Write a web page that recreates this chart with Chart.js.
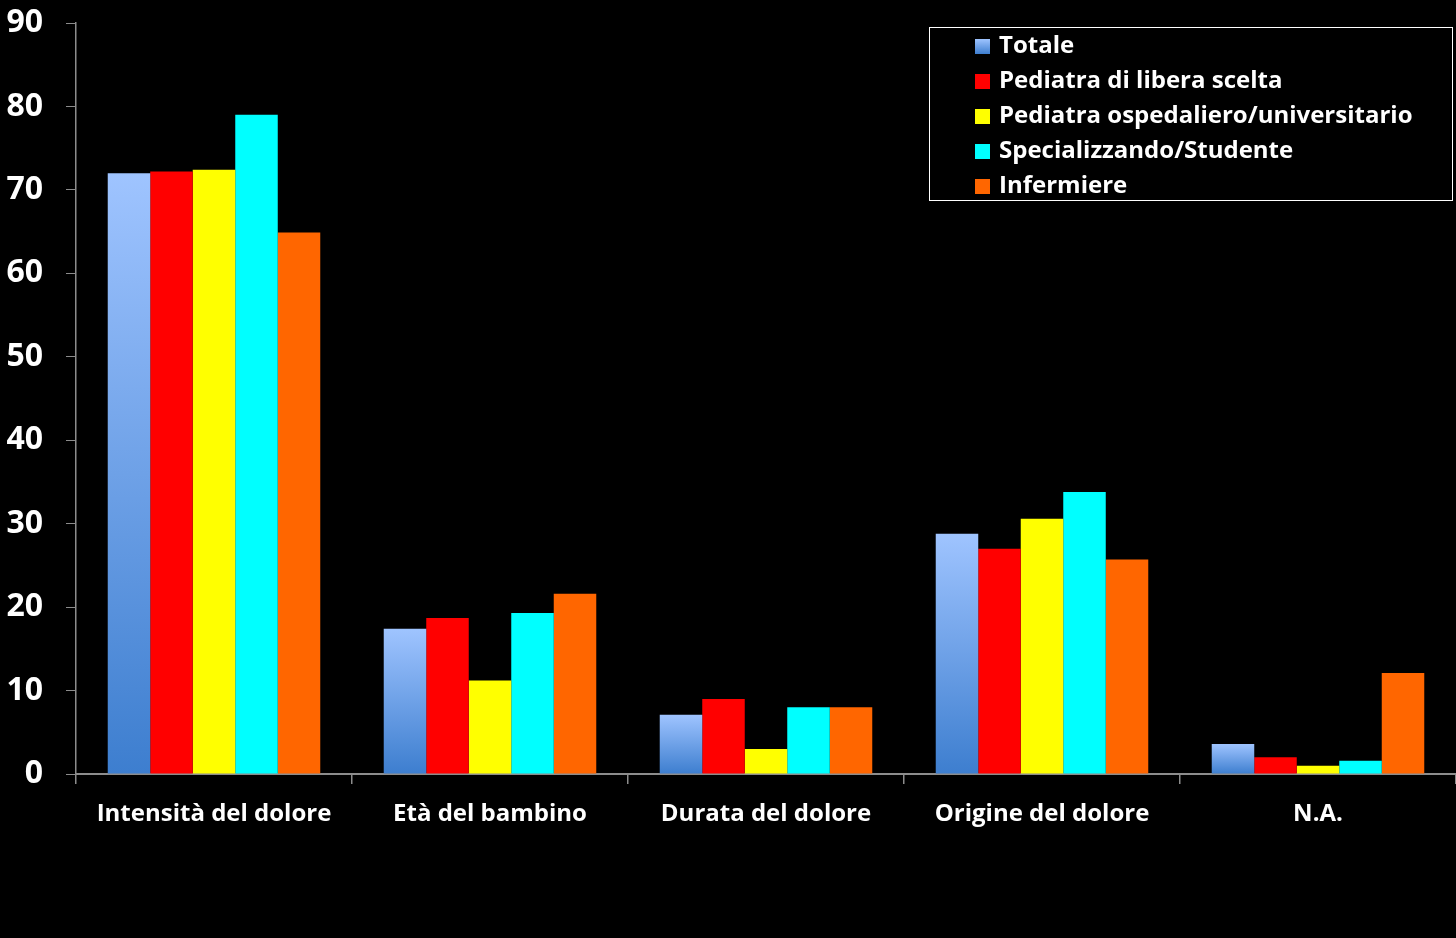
<!DOCTYPE html>
<html>
<head>
<meta charset="utf-8">
<script src="https://cdn.jsdelivr.net/npm/chart.js@4.4.1/dist/chart.umd.min.js"></script>
<style>
    html, body { margin: 0; padding: 0; background: #000; }
    #wrap { position: relative; width: 1456px; height: 938px; }
    #legenda {
        position: absolute; left: 929px; top: 27px; width: 522px; height: 172px;
        border: 1px solid #fff; font-family: 'Open Sans', sans-serif; font-weight: bold;
        font-size: 24px; color: #fff;
    }
    .voce { position: absolute; left: 45px; height: 26px; line-height: 26px; white-space: nowrap; }
    .voce span.q { display: inline-block; width: 15px; height: 15px; margin-right: 9px; vertical-align: -1px; }
</style>
</head>
<body>
<div id="wrap">
    <canvas id="chartAspetti" width="1456" height="938"></canvas>
    <div id="legenda"></div>
</div>
<script>
const categorie = ['Intensità del dolore', 'Età del bambino', 'Durata del dolore', 'Origine del dolore', 'N.A.'];
const totale = [72, 17.4, 7.1, 28.8, 3.6];
const pediatraLibera = [72.2, 18.7, 9.0, 27.0, 2.0];
const pediatraOspedaliero = [72.4, 11.2, 3.0, 30.6, 1.0];
const specializzando = [79.0, 19.3, 8.0, 33.8, 1.6];
const infermiere = [64.9, 21.6, 8.0, 25.7, 12.1];
const tickY = [0, 10, 20, 30, 40, 50, 60, 70, 80, 90];

const serie = [
    { label: 'Totale', data: totale, colore: 'gradiente' },
    { label: 'Pediatra di libera scelta', data: pediatraLibera, colore: '#ff0000' },
    { label: 'Pediatra ospedaliero/universitario', data: pediatraOspedaliero, colore: '#ffff00' },
    { label: 'Specializzando/Studente', data: specializzando, colore: '#00ffff' },
    { label: 'Infermiere', data: infermiere, colore: '#ff6600' }
];

// gradiente per ogni barra del Totale (chiaro in alto, scuro in basso)
function gradienteTotale(ctx) {
    const chart = ctx.chart;
    const y = chart.scales && chart.scales.y;
    if (!y || ctx.raw === undefined) return '#7aa8ef';
    const top = y.getPixelForValue(ctx.raw);
    const base = y.getPixelForValue(0);
    if (!isFinite(top) || !isFinite(base) || top === base) return '#7aa8ef';
    const g = chart.ctx.createLinearGradient(0, top, 0, base);
    g.addColorStop(0, '#9fc4ff');
    g.addColorStop(1, '#3d7ecf');
    return g;
}

const sfondoNero = {
    id: 'sfondoNero',
    beforeDraw(chart) {
        const c = chart.ctx;
        c.save();
        c.fillStyle = '#000';
        c.fillRect(0, 0, chart.width, chart.height);
        c.restore();
    }
};

const grigio = '#8c8c8c';

new Chart(document.getElementById('chartAspetti'), {
    type: 'bar',
    data: {
        labels: categorie,
        datasets: serie.map(s => ({
            label: s.label,
            data: s.data,
            backgroundColor: s.colore === 'gradiente' ? gradienteTotale : s.colore,
            borderWidth: 0,
            barPercentage: 1,
            categoryPercentage: 0.77
        }))
    },
    options: {
        responsive: false,
        animation: false,
        layout: { padding: { top: 23, right: 0, bottom: 0, left: 0 } },
        plugins: {
            legend: { display: false },
            tooltip: { enabled: false }
        },
        scales: {
            x: {
                grid: { display: true, offset: true, drawOnChartArea: false, color: grigio, tickLength: 10, lineWidth: 1.5 },
                border: { color: grigio, width: 2 },
                ticks: {
                    color: '#fff',
                    padding: 16,
                    font: { family: 'Open Sans', weight: 'bold', size: 24 },
                    maxRotation: 0
                },
                afterFit: s => { s.height = 164; }
            },
            y: {
                min: 0,
                max: 90,
                afterBuildTicks: s => { s.ticks = tickY.map(v => ({ value: v })); },
                grid: { display: true, drawOnChartArea: false, color: grigio, tickLength: 10 },
                border: { color: grigio, width: 1.5 },
                ticks: {
                    color: '#fff',
                    padding: 23,
                    font: { family: 'Open Sans', weight: 'bold', size: 32 }
                },
                afterFit: s => { s.width = 76; s.paddingTop = 0; s.paddingBottom = 0; }
            }
        }
    },
    plugins: [sfondoNero]
});

// legenda HTML con riquadro bianco
const legenda = document.getElementById('legenda');
serie.forEach((s, i) => {
    const d = document.createElement('div');
    d.className = 'voce';
    d.style.top = (3 + i * 35) + 'px';
    const q = document.createElement('span');
    q.className = 'q';
    q.style.background = s.colore === 'gradiente' ? 'linear-gradient(#9fc4ff, #3d7ecf)' : s.colore;
    d.appendChild(q);
    d.appendChild(document.createTextNode(s.label));
    legenda.appendChild(d);
});
</script>
</body>
</html>
